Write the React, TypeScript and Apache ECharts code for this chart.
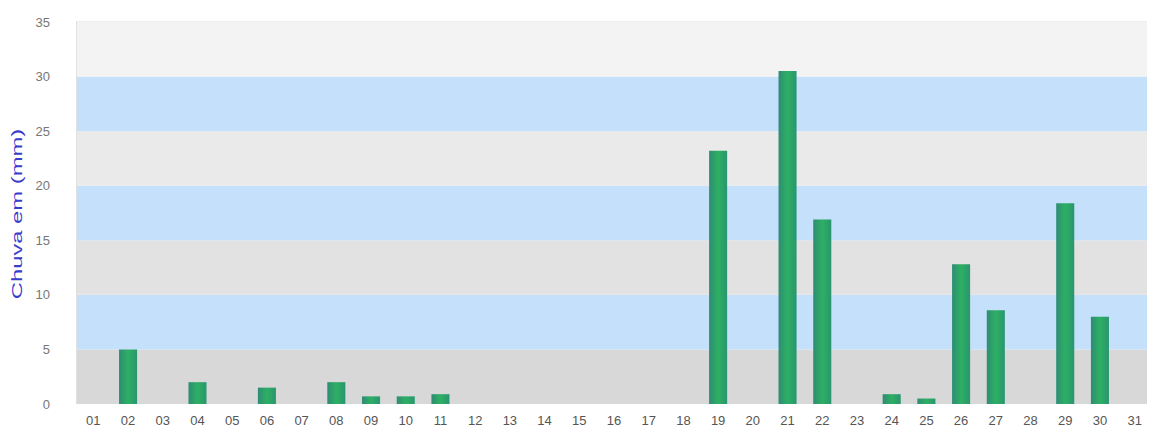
import React, { useEffect, useRef } from "react";
import * as echarts from "echarts";

const days = [
  "01","02","03","04","05","06","07","08","09","10","11","12","13","14","15","16",
  "17","18","19","20","21","22","23","24","25","26","27","28","29","30","31",
];
const rain = [
  0, 5.0, 0, 2.0, 0, 1.5, 0, 2.0, 0.7, 0.7, 0.9, 0, 0, 0, 0, 0,
  0, 0, 23.2, 0, 30.5, 16.9, 0, 0.9, 0.5, 12.8, 8.6, 0, 18.4, 8.0, 0,
];
const yTicks = [0, 5, 10, 15, 20, 25, 30, 35];
const yTitle = "Chuva em (mm)";
const bandColors = ["#d8d8d8", "#c4e0fa", "#e2e2e2", "#c4e0fa", "#eaeaea", "#c4e0fa", "#f3f3f3"];

export default function App() {
  const ref = useRef<HTMLDivElement>(null);
  useEffect(() => {
    if (!ref.current) return;
    const chart = echarts.init(ref.current, null, { renderer: "svg" });
    chart.setOption({
      animation: false,
      textStyle: { fontFamily: "Liberation Sans, Arial, sans-serif" },
      grid: { left: 76, right: 3, top: 22, bottom: 43 },
      xAxis: {
        type: "category",
        data: days,
        axisTick: { show: false },
        axisLine: { show: false },
        axisLabel: { color: "#555", fontSize: 13, margin: 10 },
        splitLine: { show: false },
      },
      yAxis: {
        type: "value",
        min: yTicks[0],
        max: yTicks[yTicks.length - 1],
        interval: 5,
        axisLine: { show: true, lineStyle: { color: "#e0e0e0" } },
        axisTick: { show: false },
        axisLabel: { color: "#777", fontSize: 13, margin: 26 },
        splitLine: { show: false },
        splitArea: { show: true, areaStyle: { color: bandColors } },
      },
      series: [
        {
          type: "bar",
          data: rain,
          barWidth: "52%",
          itemStyle: {
            color: new echarts.graphic.LinearGradient(0, 0, 1, 0, [
              { offset: 0, color: "#2e8c74" },
              { offset: 0.5, color: "#2db063" },
              { offset: 1, color: "#2a9570" },
            ]),
          },
        },
      ],
      graphic: [
        {
          type: "line",
          shape: { x1: 76, y1: 22, x2: 1152, y2: 22 },
          style: { stroke: "#dcdcdc", lineWidth: 1 },
        },
        {
          type: "line",
          shape: { x1: 1152, y1: 22, x2: 1152, y2: 404 },
          style: { stroke: "#d0d0d0", lineWidth: 1 },
        },
        {
          type: "text",
          x: 17,
          y: 214,
          rotation: Math.PI / 2,
          scaleX: 1.7,
          style: {
            text: yTitle,
            fill: "#3c3ccc",
            fontSize: 14,
            fontFamily: "Liberation Sans, Arial, sans-serif",
            align: "center",
            verticalAlign: "middle",
          },
        },
      ],
    });
    return () => chart.dispose();
  }, []);
  return <div ref={ref} style={{ width: 1155, height: 447, margin: -8 }} />;
}
